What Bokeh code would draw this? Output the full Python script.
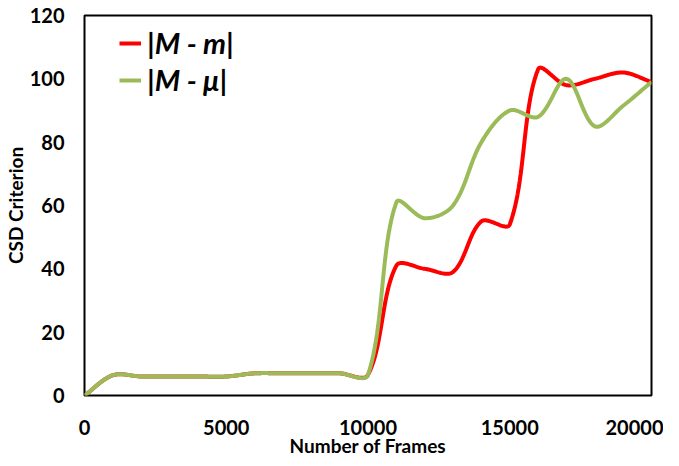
import numpy as np
from bokeh.plotting import figure
from bokeh.models import Range1d, FixedTicker, Legend, LegendItem
from bokeh.embed import file_html
from bokeh.resources import INLINE

# ---- data ----
frames = [0, 1000, 2000, 3000, 4000, 5000, 6000, 7000, 8000, 9000, 10000,
          11000, 12000, 13000, 14000, 15000, 16000, 17000, 18000, 19000, 20000]
mm_values = [0, 6.4, 6, 6, 6, 6, 7, 7, 7, 7, 6.5,
             41, 40, 39, 55, 54, 103, 98, 100, 102, 99]
mmu_values = [0, 6.4, 6, 6, 6, 6, 7, 7, 7, 7, 6.5,
              61, 56, 60, 80, 90, 88, 100, 85, 91.5, 99]
x_ticks = [0, 5000, 10000, 15000, 20000]
y_ticks = [0, 20, 40, 60, 80, 100, 120]
series_names = ["|M - m|", "|M - \u03bc|"]
series_colors = ["#FF0000", "#9BBB59"]

W, H = 663, 460
ML, MR, MT, MB = 79, 12, 15, 65
fw, fh = W - ML - MR, H - MT - MB
sx = fw / 20000.0
sy = fh / 120.0


def smooth(xs, ys, n=24):
    """Excel-like smoothed line: Bezier segments, control points scaled by chord length."""
    P = np.column_stack([np.array(xs, float), np.array(ys, float)])
    S = P * np.array([sx, sy])
    m = len(P)
    out_x, out_y = [], []
    for i in range(m - 1):
        p0 = P[i - 1] if i > 0 else P[i]
        p1, p2 = P[i], P[i + 1]
        p3 = P[i + 2] if i + 2 < m else P[i + 1]
        s0 = S[i - 1] if i > 0 else S[i]
        s1, s2 = S[i], S[i + 1]
        s3 = S[i + 2] if i + 2 < m else S[i + 1]
        d01 = np.linalg.norm(s1 - s0)
        d12 = np.linalg.norm(s2 - s1)
        d23 = np.linalg.norm(s3 - s2)
        a = d12 / (d01 + d12) if (d01 + d12) > 0 else 0.5
        b = d12 / (d12 + d23) if (d12 + d23) > 0 else 0.5
        c1 = p1 + (p2 - p0) * a / 3.0
        c2 = p2 - (p3 - p1) * b / 3.0
        t = np.linspace(0, 1, n, endpoint=(i == m - 2))[:, None]
        B = ((1 - t) ** 3) * p1 + 3 * ((1 - t) ** 2) * t * c1 + 3 * (1 - t) * t ** 2 * c2 + t ** 3 * p2
        out_x.extend(B[:, 0].tolist())
        out_y.extend(B[:, 1].tolist())
    return out_x, out_y


p = figure(width=W, height=H, output_backend="svg", toolbar_location=None,
           x_range=Range1d(0, 20000), y_range=Range1d(0, 120),
           min_border_left=ML, min_border_right=MR, min_border_top=MT, min_border_bottom=MB)
p.grid.visible = False
p.outline_line_color = "black"
p.outline_line_width = 2
p.background_fill_color = "white"
p.border_fill_color = "white"

FONT = "Lato"
for ax in (p.xaxis[0], p.yaxis[0]):
    ax.axis_line_color = None
    ax.major_tick_line_color = None
    ax.minor_tick_line_color = None
    ax.major_tick_out = 0
    ax.major_tick_in = 0
    ax.major_label_text_font = FONT
    ax.major_label_text_font_style = "bold"
    ax.major_label_text_font_size = "20px"
    ax.major_label_text_color = "black"
    ax.axis_label_text_font = FONT
    ax.axis_label_text_font_style = "bold"
    ax.axis_label_text_font_size = "19px"
    ax.axis_label_text_color = "black"

p.xaxis.ticker = FixedTicker(ticks=x_ticks)
p.yaxis.ticker = FixedTicker(ticks=y_ticks)
p.xaxis.axis_label = "Number of Frames"
p.yaxis.axis_label = "CSD Criterion"
p.xaxis.major_label_standoff = 24
p.xaxis.axis_label_standoff = -4
p.yaxis.major_label_standoff = 20
p.yaxis.axis_label_standoff = 0

items = []
for vals, name, col in zip([mm_values, mmu_values], series_names, series_colors):
    xs, ys = smooth(frames, vals)
    r = p.line(xs, ys, line_color=col, line_width=4)
    items.append(LegendItem(label=name, renderers=[r]))

legend = Legend(items=items, location=(35, 298), orientation="vertical",
                label_text_font=FONT, label_text_font_style="bold italic",
                label_text_font_size="29px", label_text_color="black",
                glyph_width=22, glyph_height=20, label_standoff=6,
                spacing=2, padding=12, margin=0,
                border_line_color=None, background_fill_alpha=0)
p.add_layout(legend, "center")

open("out.html", "w").write(file_html(p, INLINE))
